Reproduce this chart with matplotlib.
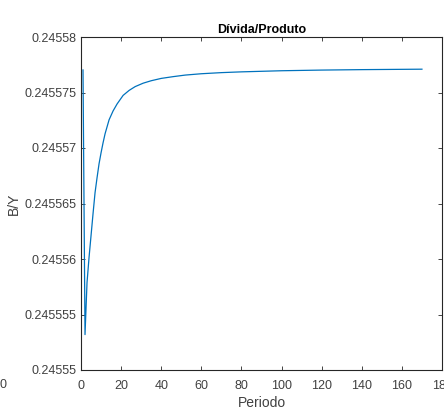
import numpy as np
import matplotlib.pyplot as plt
from matplotlib.ticker import FuncFormatter

# Dados: razão dívida/produto por período
periodo = [1, 2, 3, 4, 5, 6, 7, 8, 9, 10, 11, 12, 13, 14, 16, 18, 21, 24, 27,
           31, 35, 40, 46, 52, 60, 70, 80, 100, 120, 140, 170]
divida_produto = [0.24557703, 0.24555319, 0.24555787, 0.24556012, 0.24556210,
                  0.24556408, 0.24556597, 0.24556732, 0.24556858, 0.24556957,
                  0.24557047, 0.24557128, 0.24557191, 0.24557254, 0.24557334,
                  0.24557397, 0.24557474, 0.24557519, 0.24557553, 0.24557584,
                  0.24557606, 0.24557627, 0.24557643, 0.24557657, 0.24557669,
                  0.24557679, 0.24557686, 0.24557696, 0.24557702, 0.24557706,
                  0.24557710]

xticks = np.arange(0, 181, 20)
yticks = [0.24555, 0.245555, 0.24556, 0.245565, 0.24557, 0.245575, 0.24558]

plt.rcParams['font.family'] = ['Liberation Sans', 'DejaVu Sans']
cor_eixo = '#262626'
cor_texto = '#404040'

fig = plt.figure(figsize=(4.44, 4.09), dpi=100)
ax = fig.add_axes([81 / 444, 39 / 409, 361 / 444, 333 / 409])

ax.plot(periodo, divida_produto, color='#0072BD', linewidth=0.9)

ax.set_xlim(0, 180)
ax.set_ylim(0.24555, 0.24558)
ax.set_xticks(xticks)
ax.set_yticks(yticks)
ax.yaxis.set_major_formatter(FuncFormatter(lambda v, p: '{:.6g}'.format(v)))
ax.tick_params(direction='in', length=3, width=0.6, top=True, right=True,
               labeltop=False, labelright=False, labelsize=9,
               color=cor_eixo, labelcolor=cor_texto)
ax.tick_params(axis='x', pad=7)
ax.tick_params(axis='y', pad=3)
for s in ax.spines.values():
    s.set_color(cor_eixo)
    s.set_linewidth(0.8)

ax.set_title('Dívida/Produto', fontsize=9, fontweight='bold', pad=3)
ax.set_xlabel('Periodo', fontsize=10, color=cor_texto, labelpad=3)
ax.set_ylabel('B/Y', fontsize=10, color=cor_texto, labelpad=3)

# rótulo de outro subplot cortado na borda esquerda
fig.text(0.0, 1 - 385 / 409, '0', fontsize=9, color=cor_texto, ha='left', va='center')

plt.savefig('out.png', dpi=100)
